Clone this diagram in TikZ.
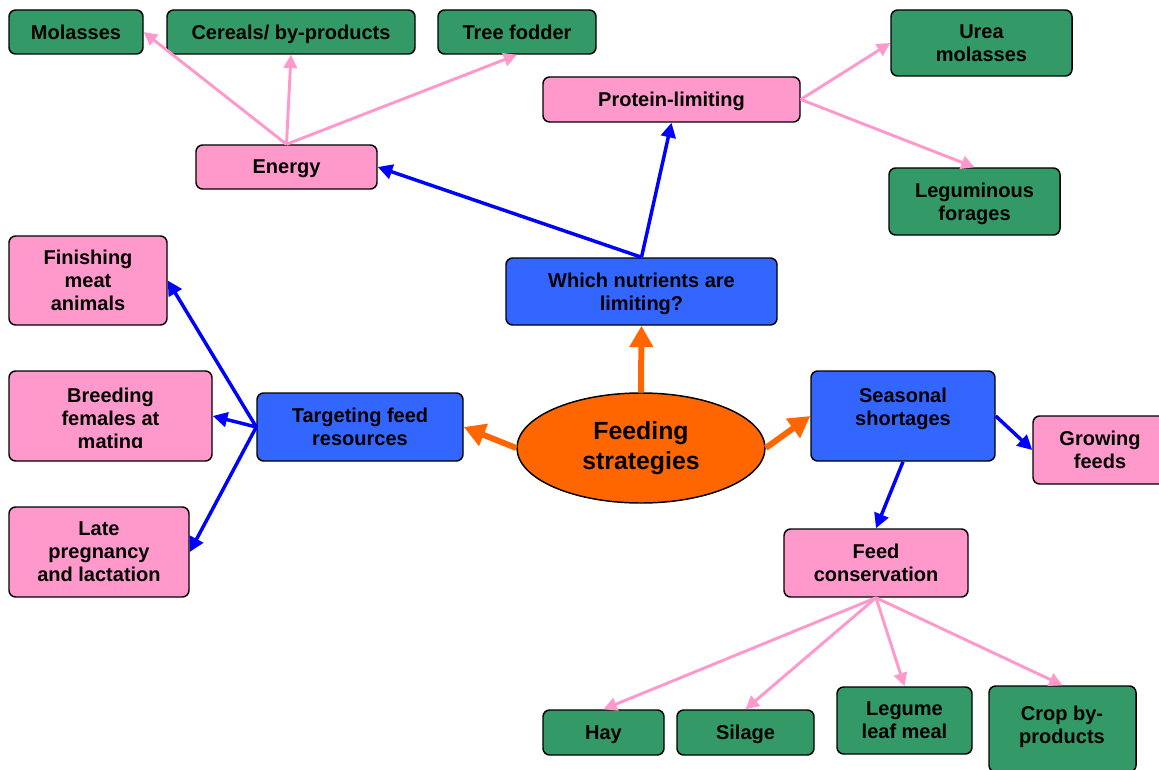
\documentclass[tikz,border=0pt]{standalone}
\usepackage{fontspec}
\setmainfont{Liberation Sans}
\usetikzlibrary{arrows.meta,shapes.geometric}
\definecolor{gbox}{HTML}{339966}
\definecolor{pbox}{HTML}{FF99CC}
\definecolor{bbox}{HTML}{3366FF}
\definecolor{obox}{HTML}{FF6600}
\definecolor{barr}{HTML}{0000FF}
\tikzset{
 txt/.style={align=center, font=\bfseries\fontsize{15}{17.3}\selectfont, inner sep=0pt},
 box/.style={txt, draw=black, line width=1.1pt, rounded corners=5pt},
 gb/.style={box, fill=gbox},
 pb/.style={box, fill=pbox},
 bb/.style={box, fill=bbox},
 one/.style={text depth=0pt},
 multi/.style={text depth=-2.5pt},
 sz/.style 2 args={minimum width=#1*0.75pt, minimum height=#2*0.75pt},
 parr/.style={draw=pbox, line width=2.2pt, -{Triangle[length=10pt,width=10pt]}},
 barrow/.style={draw=barr, line width=2.6pt, -{Triangle[length=11pt,width=11pt]}},
 oarr/.style={draw=obox, line width=4.5pt, -{Triangle[length=16pt,width=17pt]}},
}
\begin{document}
\begin{tikzpicture}[x=0.75pt,y=-0.75pt]
\useasboundingbox (0,0) rectangle (1159,770);
% boxes
\node[gb, one, sz={134}{44}] (molasses) at (76,32) {Molasses};
\node[gb, one, sz={248}{44}] (cereals) at (291,32) {Cereals/ by-products};
\node[gb, one, sz={158}{44}] (tree) at (517,32) {Tree fodder};
\node[pb, one, sz={181}{44}] (energy) at (286.5,167) {Energy};
\node[pb, one, sz={257}{45}] (protein) at (671.5,99.5) {Protein-limiting};
\node[gb, multi, sz={181}{66}] (urea) at (981.5,43) {Urea\\molasses};
\node[gb, multi, sz={171}{67}] (legum) at (974.5,201.5) {Leguminous\\forages};
\node[bb, multi, sz={271}{67}] (which) at (641.5,291.5) {Which nutrients are\\limiting?};
\node[pb, multi, sz={158}{89}] (finish) at (88,280.5) {Finishing\\meat\\animals};
\node[pb, sz={203}{90}] (breed) at (110.5,416) {};
\begin{scope}
\clip (0,0) rectangle (1159,447.5);
\node[txt] (breedtxt) at (110.5,420.5) {Breeding\\females at\\mating};
\end{scope}
\node[bb, multi, sz={206}{68}] (target) at (360,427) {Targeting feed\\resources};
\node[pb, multi, sz={180}{90}] (late) at (99,552) {Late\\pregnancy\\and lactation};
\node[ellipse, draw=black, line width=1.1pt, fill=obox, inner sep=0pt, sz={248}{110}, align=center,
      font=\bfseries\fontsize{18.6}{22.5}\selectfont] (feed) at (641,448) {Feeding\\strategies};
\node[bb, sz={184}{90}] (season) at (903,416) {};
\node[txt] (seasontxt) at (903,408.5) {Seasonal\\shortages};
\node[pb, multi, sz={134}{68}] (growing) at (1100,450) {Growing\\feeds};
\node[pb, multi, sz={184}{68}] (cons) at (876,563) {Feed\\conservation};
\node[gb, one, sz={121}{45}] (hay) at (603.5,732.5) {Hay};
\node[gb, one, sz={137}{45}] (silage) at (745.5,732.5) {Silage};
\node[gb, multi, sz={135}{67}] (legume) at (904.5,720.5) {Legume\\leaf meal};
\node[gb, sz={147}{86}] (crop) at (1062.5,729) {};
\node[txt] (croptxt) at (1062,726.5) {Crop by-\\products};
% orange arrows
\draw[oarr] (feed.north) -- (which.south);
\draw[oarr] (feed.west) -- (target.east);
\draw[oarr] (feed.east) -- (season.west);
% blue arrows
\draw[barrow] (which.north) -- (energy.east);
\draw[barrow] (which.north) -- (protein.south);
\draw[barrow] (target.west) -- (finish.east);
\draw[barrow] (target.west) -- (breed.east);
\draw[barrow] (target.west) -- (late.east);
\draw[barrow] (season.east) -- (growing.west);
\draw[barrow] (season.south) -- (cons.north);
% pink arrows
\draw[parr] (energy.north) -- (molasses.east);
\draw[parr] (energy.north) -- (cereals.south);
\draw[parr] (energy.north) -- (tree.south);
\draw[parr] (protein.east) -- (urea.west);
\draw[parr] (protein.east) -- (legum.north);
\draw[parr] (cons.south) -- (hay.north);
\draw[parr] (cons.south) -- (silage.north);
\draw[parr] (cons.south) -- (legume.north);
\draw[parr] (cons.south) -- (crop.north);
\end{tikzpicture}
\end{document}
